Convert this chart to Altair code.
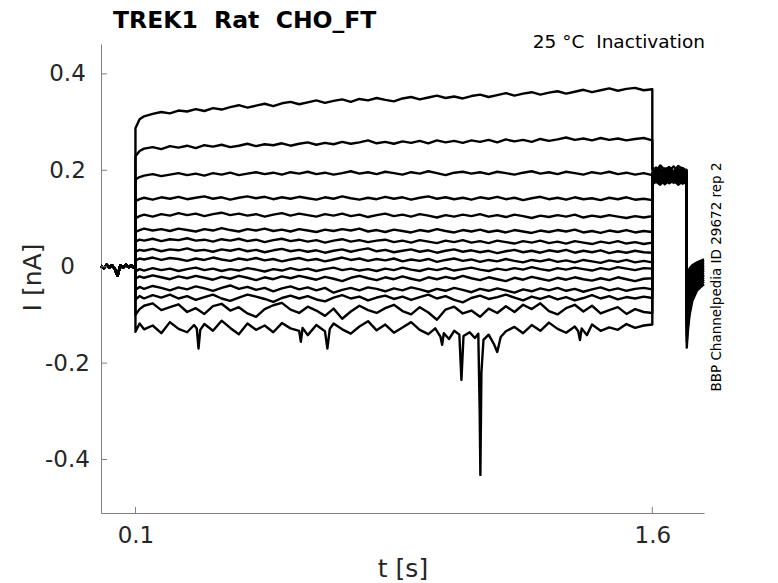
import altair as alt
import pandas as pd

FONT = "DejaVu Sans"
TITLE = "TREK1\u00a0\u00a0Rat\u00a0\u00a0CHO_FT"
CONDITION = "25\u00a0\u00b0C\u00a0\u00a0Inactivation"
SOURCE = "BBP Channelpedia ID 29672 rep 2"

X_TICKS = [0.1, 1.6]
Y_TICKS = [-0.4, -0.2, 0.0, 0.2, 0.4]

# holding period before the pre-pulse (all sweeps overlap here)
PRE_T = [0.000, 0.008, 0.016, 0.024, 0.032, 0.040, 0.045, 0.048, 0.051, 0.056, 0.064, 0.072, 0.080, 0.088, 0.095, 0.100]
PRE_I = [0.002, -0.003, 0.004, -0.002, 0.003, -0.004, -0.014, -0.019, -0.011, 0.003, -0.002, 0.004, -0.001, 0.003, -0.002, 0.000]

# pre-pulse period 0.1 .. 1.6 s
PULSE_T = [0.100, 0.112, 0.125, 0.150, 0.175, 0.200, 0.225, 0.250, 0.275, 0.300,
           0.325, 0.350, 0.375, 0.400, 0.425, 0.450, 0.475, 0.500, 0.525, 0.550,
           0.575, 0.600, 0.625, 0.650, 0.675, 0.700, 0.725, 0.750, 0.775, 0.800,
           0.825, 0.850, 0.875, 0.900, 0.925, 0.950, 0.975, 1.000, 1.025, 1.050,
           1.075, 1.100, 1.125, 1.150, 1.175, 1.200, 1.225, 1.250, 1.275, 1.300,
           1.325, 1.350, 1.375, 1.400, 1.425, 1.450, 1.475, 1.500, 1.525, 1.550,
           1.575, 1.600]

PULSE_SWEEPS = [
    [0.287, 0.306, 0.312, 0.317, 0.321, 0.318, 0.324, 0.322, 0.327, 0.323,
     0.329, 0.326, 0.331, 0.335, 0.330, 0.334, 0.338, 0.333, 0.339, 0.342,
     0.337, 0.341, 0.345, 0.340, 0.344, 0.347, 0.342, 0.348, 0.345, 0.350,
     0.346, 0.343, 0.349, 0.352, 0.347, 0.351, 0.355, 0.350, 0.353, 0.349,
     0.354, 0.357, 0.352, 0.356, 0.360, 0.355, 0.359, 0.362, 0.357, 0.361,
     0.364, 0.359, 0.363, 0.367, 0.362, 0.366, 0.370, 0.365, 0.369, 0.371,
     0.366, 0.368],
    [0.229, 0.240, 0.245, 0.248, 0.244, 0.250, 0.247, 0.251, 0.246, 0.252,
     0.249, 0.253, 0.248, 0.251, 0.255, 0.250, 0.254, 0.252, 0.256, 0.251,
     0.255, 0.258, 0.253, 0.257, 0.254, 0.259, 0.255, 0.258, 0.262, 0.256,
     0.259, 0.255, 0.260, 0.257, 0.261, 0.256, 0.262, 0.258, 0.261, 0.257,
     0.262, 0.259, 0.263, 0.258, 0.264, 0.260, 0.263, 0.259, 0.265, 0.261,
     0.264, 0.268, 0.263, 0.266, 0.262, 0.267, 0.263, 0.266, 0.262, 0.265,
     0.267, 0.262],
    [0.181, 0.186, 0.189, 0.192, 0.188, 0.191, 0.194, 0.190, 0.193, 0.189,
     0.194, 0.191, 0.195, 0.190, 0.193, 0.196, 0.192, 0.195, 0.191, 0.196,
     0.193, 0.197, 0.192, 0.195, 0.191, 0.194, 0.198, 0.193, 0.196, 0.192,
     0.197, 0.194, 0.191, 0.196, 0.193, 0.198, 0.194, 0.190, 0.195, 0.197,
     0.193, 0.196, 0.192, 0.197, 0.194, 0.191, 0.195, 0.198, 0.193, 0.196,
     0.192, 0.197, 0.194, 0.191, 0.196, 0.193, 0.197, 0.192, 0.195, 0.191,
     0.194, 0.190],
    [0.136, 0.140, 0.143, 0.139, 0.144, 0.141, 0.145, 0.140, 0.143, 0.146,
     0.141, 0.144, 0.139, 0.143, 0.146, 0.142, 0.145, 0.140, 0.144, 0.141,
     0.145, 0.142, 0.139, 0.144, 0.141, 0.146, 0.142, 0.139, 0.143, 0.140,
     0.145, 0.141, 0.144, 0.139, 0.143, 0.146, 0.141, 0.144, 0.140, 0.143,
     0.139, 0.144, 0.141, 0.145, 0.140, 0.143, 0.138, 0.142, 0.145, 0.140,
     0.143, 0.139, 0.144, 0.140, 0.142, 0.138, 0.143, 0.140, 0.144, 0.139,
     0.141, 0.138],
    [0.100, 0.105, 0.108, 0.104, 0.109, 0.106, 0.111, 0.107, 0.110, 0.105,
     0.109, 0.112, 0.107, 0.110, 0.106, 0.109, 0.104, 0.108, 0.111, 0.106,
     0.110, 0.107, 0.104, 0.109, 0.106, 0.110, 0.105, 0.108, 0.103, 0.107,
     0.110, 0.105, 0.108, 0.104, 0.109, 0.106, 0.102, 0.107, 0.104, 0.108,
     0.105, 0.109, 0.104, 0.107, 0.103, 0.108, 0.105, 0.101, 0.106, 0.103,
     0.107, 0.104, 0.108, 0.102, 0.106, 0.103, 0.107, 0.104, 0.101, 0.105,
     0.102, 0.105],
    [0.072, 0.076, 0.079, 0.075, 0.078, 0.074, 0.079, 0.076, 0.073, 0.078,
     0.075, 0.080, 0.076, 0.073, 0.078, 0.075, 0.079, 0.074, 0.077, 0.073,
     0.078, 0.075, 0.072, 0.077, 0.074, 0.078, 0.075, 0.079, 0.073, 0.076,
     0.072, 0.077, 0.074, 0.071, 0.076, 0.073, 0.078, 0.074, 0.071, 0.076,
     0.073, 0.077, 0.072, 0.075, 0.071, 0.076, 0.073, 0.070, 0.075, 0.072,
     0.076, 0.073, 0.077, 0.071, 0.074, 0.070, 0.075, 0.072, 0.076, 0.071,
     0.074, 0.072],
    [0.052, 0.056, 0.054, 0.058, 0.053, 0.057, 0.055, 0.059, 0.054, 0.056,
     0.052, 0.057, 0.054, 0.058, 0.053, 0.056, 0.051, 0.055, 0.058, 0.053,
     0.056, 0.052, 0.055, 0.050, 0.054, 0.057, 0.052, 0.055, 0.051, 0.054,
     0.056, 0.051, 0.054, 0.050, 0.055, 0.052, 0.049, 0.054, 0.051, 0.055,
     0.050, 0.053, 0.049, 0.054, 0.051, 0.048, 0.053, 0.050, 0.054, 0.049,
     0.052, 0.048, 0.053, 0.050, 0.047, 0.052, 0.049, 0.053, 0.048, 0.051,
     0.047, 0.050],
    [0.031, 0.035, 0.033, 0.037, 0.032, 0.036, 0.034, 0.038, 0.033, 0.035,
     0.031, 0.036, 0.033, 0.037, 0.032, 0.035, 0.030, 0.034, 0.037, 0.032,
     0.035, 0.031, 0.034, 0.029, 0.033, 0.036, 0.031, 0.035, 0.038, 0.032,
     0.035, 0.030, 0.033, 0.036, 0.031, 0.034, 0.029, 0.033, 0.036, 0.031,
     0.034, 0.030, 0.033, 0.028, 0.032, 0.035, 0.030, 0.033, 0.029, 0.034,
     0.031, 0.035, 0.029, 0.033, 0.030, 0.034, 0.028, 0.032, 0.029, 0.033,
     0.030, 0.029],
    [0.013, 0.017, 0.015, 0.019, 0.014, 0.018, 0.016, 0.012, 0.017, 0.014,
     0.019, 0.015, 0.012, 0.017, 0.014, 0.018, 0.013, 0.016, 0.011, 0.015,
     0.018, 0.013, 0.016, 0.011, 0.015, 0.019, 0.014, 0.017, 0.012, 0.016,
     0.013, 0.017, 0.011, 0.015, 0.012, 0.016, 0.010, 0.014, 0.017, 0.012,
     0.015, 0.010, 0.014, 0.011, 0.016, 0.012, 0.009, 0.014, 0.011, 0.015,
     0.010, 0.013, 0.009, 0.014, 0.011, 0.008, 0.013, 0.010, 0.014, 0.009,
     0.012, 0.009],
    [-0.010, -0.005, -0.008, -0.003, -0.007, -0.004, -0.009, -0.005, -0.002, -0.007,
     -0.004, -0.009, -0.005, -0.008, -0.003, -0.006, -0.010, -0.005, -0.008, -0.003,
     -0.007, -0.004, -0.009, -0.005, -0.002, -0.007, -0.004, -0.008, -0.005, -0.009,
     -0.004, -0.007, -0.002, -0.006, -0.009, -0.004, -0.007, -0.003, -0.008, -0.005,
     -0.002, -0.006, -0.009, -0.004, -0.007, -0.003, -0.006, -0.001, -0.005, -0.008,
     -0.003, -0.006, -0.002, -0.005, -0.008, -0.003, -0.006, -0.001, -0.004, -0.007,
     -0.003, -0.004],
    [-0.025, -0.020, -0.023, -0.018, -0.022, -0.026, -0.020, -0.024, -0.019, -0.023,
     -0.027, -0.021, -0.025, -0.019, -0.023, -0.028, -0.022, -0.026, -0.020, -0.024,
     -0.019, -0.023, -0.027, -0.021, -0.025, -0.030, -0.023, -0.019, -0.024, -0.028,
     -0.022, -0.026, -0.020, -0.025, -0.029, -0.022, -0.026, -0.021, -0.025, -0.019,
     -0.024, -0.028, -0.022, -0.026, -0.030, -0.023, -0.027, -0.021, -0.025, -0.029,
     -0.023, -0.027, -0.022, -0.026, -0.029, -0.024, -0.028, -0.022, -0.026, -0.030,
     -0.025, -0.024],
    [-0.048, -0.042, -0.046, -0.040, -0.044, -0.049, -0.043, -0.047, -0.041, -0.045,
     -0.050, -0.044, -0.039, -0.046, -0.042, -0.048, -0.044, -0.051, -0.045, -0.041,
     -0.047, -0.043, -0.049, -0.044, -0.054, -0.048, -0.044, -0.049, -0.043, -0.046,
     -0.051, -0.045, -0.049, -0.043, -0.047, -0.052, -0.046, -0.050, -0.044, -0.048,
     -0.053, -0.046, -0.050, -0.045, -0.049, -0.054, -0.047, -0.051, -0.045, -0.049,
     -0.044, -0.050, -0.046, -0.052, -0.047, -0.043, -0.049, -0.045, -0.050, -0.046,
     -0.044, -0.047],
    [-0.068, -0.061, -0.066, -0.059, -0.064, -0.058, -0.066, -0.061, -0.069, -0.063,
     -0.058, -0.066, -0.071, -0.064, -0.058, -0.062, -0.067, -0.073, -0.065, -0.060,
     -0.066, -0.061, -0.068, -0.072, -0.064, -0.059, -0.066, -0.062, -0.070, -0.064,
     -0.060, -0.067, -0.062, -0.069, -0.063, -0.058, -0.066, -0.061, -0.069, -0.074,
     -0.065, -0.060, -0.067, -0.063, -0.058, -0.064, -0.070, -0.062, -0.067, -0.061,
     -0.068, -0.063, -0.070, -0.065, -0.059, -0.066, -0.061, -0.068, -0.063, -0.066,
     -0.062, -0.065],
    [-0.100, -0.088, -0.081, -0.076, -0.090, -0.084, -0.078, -0.094, -0.086, -0.098,
     -0.082, -0.077, -0.091, -0.084, -0.097, -0.104, -0.088, -0.080, -0.075, -0.089,
     -0.096, -0.083, -0.091, -0.102, -0.087, -0.108, -0.093, -0.081, -0.090, -0.096,
     -0.086, -0.079, -0.092, -0.099, -0.084, -0.095, -0.110, -0.089, -0.083, -0.097,
     -0.091, -0.104, -0.087, -0.096, -0.082, -0.094, -0.079, -0.088, -0.076, -0.092,
     -0.099, -0.086, -0.079, -0.093, -0.081, -0.097, -0.090, -0.084, -0.098, -0.088,
     -0.094, -0.096],
]

# most hyperpolarised sweep (noisy, with the large downward spikes)
LAST_T = [0.100, 0.112, 0.125, 0.150, 0.175, 0.200, 0.225, 0.250, 0.270, 0.278,
          0.283, 0.288, 0.300, 0.325, 0.350, 0.375, 0.400, 0.425, 0.450, 0.475,
          0.500, 0.525, 0.550, 0.575, 0.580, 0.585, 0.600, 0.625, 0.650, 0.657,
          0.664, 0.675, 0.700, 0.725, 0.750, 0.775, 0.800, 0.825, 0.850, 0.875,
          0.900, 0.925, 0.950, 0.970, 0.985, 0.990, 0.995, 1.010, 1.025, 1.040,
          1.046, 1.052, 1.070, 1.085, 1.095, 1.099, 1.101, 1.104, 1.110, 1.125,
          1.140, 1.150, 1.160, 1.175, 1.200, 1.225, 1.250, 1.275, 1.300, 1.325,
          1.350, 1.375, 1.385, 1.390, 1.395, 1.410, 1.425, 1.450, 1.475, 1.500,
          1.525, 1.550, 1.575, 1.600]
LAST_I = [-0.135, -0.118, -0.130, -0.122, -0.138, -0.115, -0.129, -0.136, -0.121, -0.128,
          -0.170, -0.131, -0.119, -0.133, -0.112, -0.127, -0.140, -0.118, -0.131, -0.122,
          -0.136, -0.117, -0.128, -0.133, -0.156, -0.127, -0.142, -0.121, -0.134, -0.170,
          -0.129, -0.118, -0.130, -0.139, -0.124, -0.113, -0.132, -0.120, -0.137, -0.126,
          -0.115, -0.131, -0.140, -0.128, -0.145, -0.162, -0.138, -0.150, -0.133, -0.141,
          -0.235, -0.144, -0.136, -0.148, -0.139, -0.300, -0.432, -0.220, -0.152, -0.141,
          -0.160, -0.177, -0.146, -0.134, -0.125, -0.138, -0.121, -0.133, -0.116, -0.129,
          -0.137, -0.124, -0.134, -0.152, -0.128, -0.142, -0.120, -0.133, -0.126, -0.131,
          -0.119, -0.127, -0.122, -0.120]

# test pulse 1.6 .. 1.699 s
TAIL_T = [1.600, 1.611, 1.623, 1.636, 1.649, 1.662, 1.675, 1.688, 1.699]
TAIL_SWEEPS = [
    [0.205, 0.198, 0.210, 0.201, 0.207, 0.196, 0.209, 0.203, 0.200],
    [0.200, 0.206, 0.195, 0.204, 0.199, 0.208, 0.197, 0.205, 0.198],
    [0.196, 0.202, 0.193, 0.200, 0.205, 0.194, 0.203, 0.197, 0.201],
    [0.193, 0.199, 0.204, 0.192, 0.200, 0.196, 0.202, 0.191, 0.197],
    [0.190, 0.197, 0.188, 0.201, 0.193, 0.199, 0.189, 0.198, 0.194],
    [0.188, 0.194, 0.199, 0.187, 0.196, 0.190, 0.198, 0.192, 0.189],
    [0.186, 0.192, 0.185, 0.197, 0.189, 0.195, 0.187, 0.193, 0.190],
    [0.184, 0.190, 0.195, 0.183, 0.192, 0.186, 0.194, 0.185, 0.188],
    [0.182, 0.188, 0.181, 0.193, 0.186, 0.191, 0.183, 0.190, 0.185],
    [0.180, 0.186, 0.191, 0.179, 0.188, 0.182, 0.190, 0.181, 0.184],
    [0.178, 0.184, 0.177, 0.189, 0.181, 0.187, 0.179, 0.186, 0.182],
    [0.176, 0.182, 0.187, 0.175, 0.184, 0.178, 0.186, 0.177, 0.180],
    [0.175, 0.180, 0.173, 0.185, 0.177, 0.183, 0.174, 0.182, 0.178],
    [0.173, 0.178, 0.183, 0.171, 0.180, 0.174, 0.182, 0.172, 0.176],
    [0.171, 0.176, 0.170, 0.180, 0.173, 0.179, 0.170, 0.177, 0.174],
]

# return to holding, 1.700 .. 1.75 s
RECOV_T = [1.700, 1.703, 1.708, 1.716, 1.730, 1.750]
RECOV_SWEEPS = [
    [-0.020, -0.012, -0.004, 0.003, 0.009, 0.015],
    [-0.031, -0.021, -0.011, -0.002, 0.005, 0.012],
    [-0.041, -0.029, -0.017, -0.007, 0.001, 0.009],
    [-0.052, -0.038, -0.024, -0.012, -0.003, 0.005],
    [-0.061, -0.046, -0.030, -0.017, -0.006, 0.002],
    [-0.071, -0.054, -0.037, -0.022, -0.010, -0.001],
    [-0.082, -0.063, -0.044, -0.027, -0.014, -0.005],
    [-0.091, -0.071, -0.050, -0.032, -0.018, -0.008],
    [-0.101, -0.079, -0.057, -0.037, -0.022, -0.012],
    [-0.112, -0.088, -0.064, -0.043, -0.026, -0.016],
    [-0.121, -0.096, -0.070, -0.048, -0.030, -0.019],
    [-0.131, -0.104, -0.077, -0.053, -0.034, -0.023],
    [-0.143, -0.114, -0.085, -0.059, -0.039, -0.027],
    [-0.155, -0.124, -0.093, -0.065, -0.044, -0.031],
    [-0.168, -0.134, -0.101, -0.071, -0.049, -0.036],
]

rows = []
for j in range(15):
    segs = [(PRE_T, PRE_I)]
    if j < len(PULSE_SWEEPS):
        segs.append((PULSE_T, PULSE_SWEEPS[j]))
    else:
        segs.append((LAST_T, LAST_I))
    segs.append((TAIL_T, TAIL_SWEEPS[j]))
    segs.append((RECOV_T, RECOV_SWEEPS[j]))
    k = 0
    for ts, vs in segs:
        for t, v in zip(ts, vs):
            rows.append({"sweep": j, "k": k, "t": t, "I": v})
            k += 1
df = pd.DataFrame(rows)

W, H = 603, 469
GRAY = "#808080"
DARK = "#262626"

x_scale = alt.Scale(domain=[0, 1.75], nice=False, zero=False)
y_scale = alt.Scale(domain=[-0.511, 0.462], nice=False, zero=False)

x_axis = alt.Axis(values=X_TICKS, format=".1f", ticks=False, tickSize=0, grid=False,
                  domainColor=GRAY, domainWidth=1,
                  labelFont=FONT, labelFontSize=23, labelColor=DARK, labelPadding=11,
                  title="t [s]", titleFont=FONT, titleFontSize=25, titleFontWeight="normal",
                  titleColor=DARK, titleX=301.5, titleY=55, titleAlign="center",
                  titleBaseline="middle", titleAngle=0)
y_axis = alt.Axis(values=Y_TICKS, ticks=False, tickSize=0, grid=False,
                  labelExpr="datum.value < 0 ? '-' + format(-datum.value, '.1f') : (datum.value == 0 ? '0' : format(datum.value, '.1f'))",
                  domainColor=GRAY, domainWidth=1,
                  labelFont=FONT, labelFontSize=23, labelColor=DARK, labelPadding=34,
                  labelAlign="center", labelBaseline="middle",
                  title="I [nA]", titleFont=FONT, titleFontSize=25, titleFontWeight="normal",
                  titleColor=DARK, titleX=-69, titleY=233, titleAlign="center",
                  titleBaseline="middle", titleAngle=270)

traces = alt.Chart(df).mark_line(color="black", strokeWidth=2.4, strokeJoin="round").encode(
    x=alt.X("t:Q", scale=x_scale, axis=x_axis),
    y=alt.Y("I:Q", scale=y_scale, axis=y_axis),
    detail="sweep:N",
    order="k:Q",
)

ytick = alt.Chart(pd.DataFrame({"I": Y_TICKS})).mark_rule(color=GRAY, strokeWidth=1).encode(
    y=alt.Y("I:Q", scale=y_scale, axis=y_axis), x=alt.value(0), x2=alt.value(6))
xtick = alt.Chart(pd.DataFrame({"t": X_TICKS})).mark_rule(color=GRAY, strokeWidth=1).encode(
    x=alt.X("t:Q", scale=x_scale, axis=x_axis), y=alt.value(H), y2=alt.value(H - 6))

title_layer = alt.Chart(pd.DataFrame({"s": [TITLE]})).mark_text(
    font=FONT, fontSize=23.5, fontWeight="bold", color="black", align="left", baseline="alphabetic"
).encode(text="s:N", x=alt.value(12), y=alt.value(-16))

cond_layer = alt.Chart(pd.DataFrame({"s": [CONDITION]})).mark_text(
    font=FONT, fontSize=18.5, color="black", align="right", baseline="alphabetic"
).encode(text="s:N", x=alt.value(W + 1), y=alt.value(4))

source_layer = alt.Chart(pd.DataFrame({"s": [SOURCE]})).mark_text(
    font=FONT, fontSize=13.5, color="black", align="center", baseline="middle", angle=270
).encode(text="s:N", x=alt.value(616), y=alt.value(233))

chart = alt.layer(traces, ytick, xtick, title_layer, cond_layer, source_layer).properties(
    width=W, height=H,
    background="white",
    autosize=alt.AutoSizeParams(type="none"),
    padding={"left": 93, "top": 36, "right": 40, "bottom": 72},
).configure_view(stroke="transparent")

chart.save("out.html", embed_options={"renderer": "svg", "actions": False})
